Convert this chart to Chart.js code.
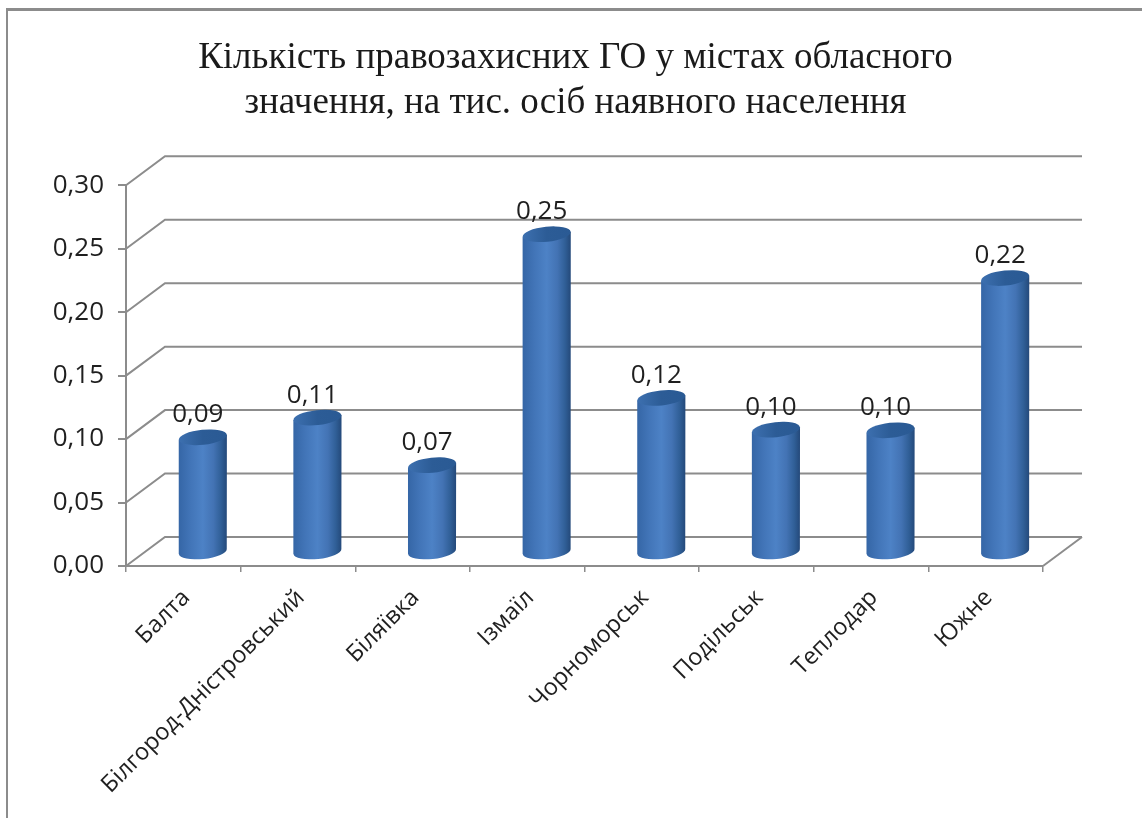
<!DOCTYPE html>
<html lang="uk">
<head>
    <meta charset="UTF-8">
    <title>Кількість правозахисних ГО</title>
    <script src="https://cdn.jsdelivr.net/npm/chart.js"></script>
    <style>
        html, body { margin: 0; padding: 0; background: #fff; overflow: hidden; }
        #wrap { position: absolute; left: 0; top: 0; width: 1142px; height: 818px; }
        #frame { position: absolute; left: 6px; top: 8px; right: 0; bottom: 0; border-left: 2px solid #8c8c8c; border-top: 3px solid #8c8c8c; }
        canvas { position: absolute; left: 0; top: 0; filter: blur(0.6px); }
    </style>
</head>
<body>
<div id="wrap">
    <div id="frame"></div>
    <canvas id="chart" width="1142" height="818"></canvas>
</div>
<script>
    var titleLines = ['Кількість правозахисних ГО у містах обласного', 'значення, на тис. осіб наявного населення'];
    var cities = ['Балта', 'Білгород-Дністровський', 'Біляївка', 'Ізмаїл', 'Чорноморськ', 'Подільськ', 'Теплодар', 'Южне'];
    var values = [0.09, 0.1055, 0.068, 0.25, 0.121, 0.096, 0.0955, 0.2155];
    var yMax = 0.30;
    var yStep = 0.05;

    // depth of the fake 3d box, in pixels
    var depthX = 39;
    var depthY = 29;
    var gridColor = '#8c8c8c';

    function comma(v) {
        return v.toFixed(2).replace('.', ',');
    }

    // the title is centred on the whole picture, not on the space left of the padding
    var titleShiftPlugin = {
        id: 'titleShift',
        afterLayout: function (chart) {
            chart.titleBlock.left += 54;
            chart.titleBlock.right += 54;
        }
    };

    // back wall, floor and the slanted bits of the grid
    var wallPlugin = {
        id: 'wall',
        beforeDatasetsDraw: function (chart) {
            var ctx = chart.ctx;
            var y = chart.scales.y;
            var a = chart.chartArea;
            ctx.save();
            ctx.strokeStyle = gridColor;
            ctx.lineWidth = 2;
            y.ticks.forEach(function (t) {
                var py = y.getPixelForValue(t.value);
                ctx.beginPath();
                ctx.moveTo(a.left, py);
                ctx.lineTo(a.left + depthX, py - depthY);
                ctx.lineTo(a.right + depthX, py - depthY);
                ctx.stroke();
            });
            // right edge of the floor and front edge
            ctx.beginPath();
            ctx.moveTo(a.right + depthX, a.bottom - depthY);
            ctx.lineTo(a.right, a.bottom);
            ctx.stroke();
            ctx.restore();
        }
    };

    // bars are drawn by hand as cylinders, from the positions of the bar elements
    var cylinderPlugin = {
        id: 'cylinders',
        afterDatasetsDraw: function (chart) {
            var ctx = chart.ctx;
            var meta = chart.getDatasetMeta(0);
            var y = chart.scales.y;
            var base = y.getPixelForValue(0) - depthY / 2;
            meta.data.forEach(function (bar, i) {
                var cx = bar.x + depthX / 2;
                var top = bar.y - depthY / 2;
                var rx = bar.width / 2;
                var ry = 7.5;
                var tilt = -6 * Math.PI / 180;
                var tip = Math.sin(tilt) * rx;
                var left = cx - rx;
                var right = cx + rx;

                var g = ctx.createLinearGradient(left, 0, right, 0);
                g.addColorStop(0, '#3566a6');
                g.addColorStop(0.25, '#4275b8');
                g.addColorStop(0.5, '#4d82c6');
                g.addColorStop(0.72, '#4373b4');
                g.addColorStop(0.88, '#305f97');
                g.addColorStop(1, '#24497a');

                ctx.save();
                ctx.fillStyle = g;
                ctx.beginPath();
                ctx.moveTo(left, top - tip);
                ctx.lineTo(left, base - tip);
                ctx.ellipse(cx, base, rx, ry, tilt, Math.PI, 0, true);
                ctx.lineTo(right, top + tip);
                ctx.closePath();
                ctx.fill();

                var g2 = ctx.createLinearGradient(left, 0, right, 0);
                g2.addColorStop(0, '#3d70b0');
                g2.addColorStop(0.5, '#2c5c96');
                g2.addColorStop(1, '#2a5a94');
                ctx.fillStyle = g2;
                ctx.beginPath();
                ctx.ellipse(cx, top, rx, ry, tilt, 0, Math.PI * 2);
                ctx.fill();

                ctx.fillStyle = '#1f1f1f';
                ctx.font = '26px "Open Sans"';
                ctx.textAlign = 'center';
                ctx.textBaseline = 'alphabetic';
                ctx.fillText(comma(values[i]), cx - 5, top - 15);
                ctx.restore();
            });
        }
    };

    new Chart(document.getElementById('chart').getContext('2d'), {
        type: 'bar',
        data: {
            labels: cities,
            datasets: [{
                data: values,
                backgroundColor: 'rgba(0,0,0,0)',
                borderWidth: 0,
                categoryPercentage: 0.42,
                barPercentage: 1
            }]
        },
        options: {
            responsive: false,
            animation: false,
            layout: { padding: { left: 0, right: 99, top: 0, bottom: 0 } },
            plugins: {
                legend: { display: false },
                tooltip: { enabled: false },
                title: {
                    display: true,
                    text: titleLines,
                    color: '#1a1a1a',
                    font: { family: '"Liberation Serif"', size: 37, weight: 'normal', lineHeight: 1.22 },
                    padding: { top: 36, bottom: 59 }
                }
            },
            scales: {
                x: {
                    afterFit: function (s) { s.height = 252; },
                    border: { color: gridColor, width: 2 },
                    grid: { drawOnChartArea: false, color: gridColor, tickLength: 6, lineWidth: 1.5 },
                    ticks: { color: '#1f1f1f', font: { family: '"Open Sans"', size: 23.5 }, minRotation: 45, maxRotation: 45, padding: 12, labelOffset: 3, autoSkip: false }
                },
                y: {
                    min: 0,
                    max: yMax,
                    afterFit: function (s) { s.width = 126; },
                    border: { color: gridColor, width: 2 },
                    grid: { drawOnChartArea: false, color: gridColor, tickLength: 8, lineWidth: 2 },
                    ticks: {
                        stepSize: yStep,
                        color: '#1f1f1f',
                        font: { family: '"Open Sans"', size: 26 },
                        padding: 14,
                        callback: function (v) { return comma(v); }
                    }
                }
            }
        },
        plugins: [titleShiftPlugin, wallPlugin, cylinderPlugin]
    });
</script>
</body>
</html>
